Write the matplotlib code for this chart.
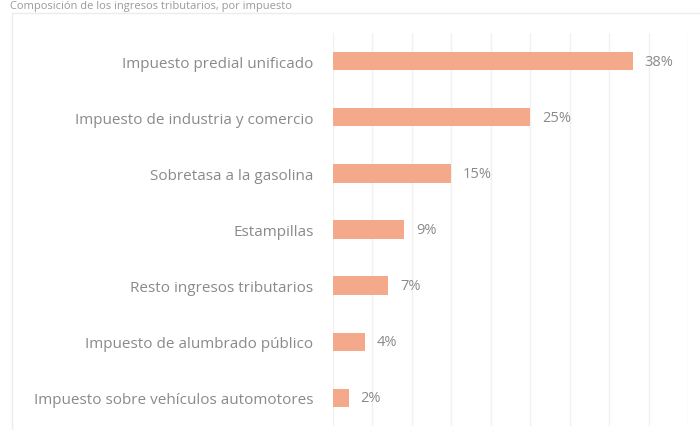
import matplotlib.pyplot as plt
from matplotlib.lines import Line2D

# datos
categorias = [
    "Impuesto predial unificado",
    "Impuesto de industria y comercio",
    "Sobretasa a la gasolina",
    "Estampillas",
    "Resto ingresos tributarios",
    "Impuesto de alumbrado público",
    "Impuesto sobre vehículos automotores",
]
valores = [38, 25, 15, 9, 7, 4, 2]
etiquetas = ["38%", "25%", "15%", "9%", "7%", "4%", "2%"]
titulo = "Composición de los ingresos tributarios, por impuesto"

COLOR_BARRA = "#F4A98A"
COLOR_TEXTO = "#8a8a8a"

plt.rcParams["font.family"] = ["Open Sans", "DejaVu Sans"]

fig = plt.figure(figsize=(7, 4.31), dpi=100)
W, H = 700, 431

# marco gris claro
fig.add_artist(Line2D([12 / W, 1], [1 - 14 / H, 1 - 14 / H], color="#ececec", lw=1))
fig.add_artist(Line2D([12 / W, 12 / W], [0, 1 - 14 / H], color="#ececec", lw=1))

# título
fig.text(10 / W, 1 - 1 / H, titulo, fontsize=8, color="#9a9a9a",
         va="top", ha="left")

ax = fig.add_axes([333 / W, 4 / H, 355 / W, 393 / H])
y = list(range(len(categorias)))
ax.barh(y, valores, height=0.33, color=COLOR_BARRA, zorder=3)

for yi, v, t in zip(y, valores, etiquetas):
    ax.text(v + 1.5, yi, t, va="center", ha="left", fontsize=10.5,
            color=COLOR_TEXTO)

ax.set_xlim(0, 45)
ax.set_ylim(len(categorias) - 0.5, -0.5)
ax.set_xticks(range(0, 46, 5))
ax.set_xticklabels([])
ax.set_yticks(y)
ax.set_yticklabels(categorias, fontsize=11, color=COLOR_TEXTO)
ax.tick_params(axis="y", length=0, pad=14)
ax.tick_params(axis="x", length=0)
ax.grid(axis="x", color="#f1f1f1", lw=1, zorder=0)
for s in ax.spines.values():
    s.set_visible(False)

fig.savefig("out.png", dpi=100)
